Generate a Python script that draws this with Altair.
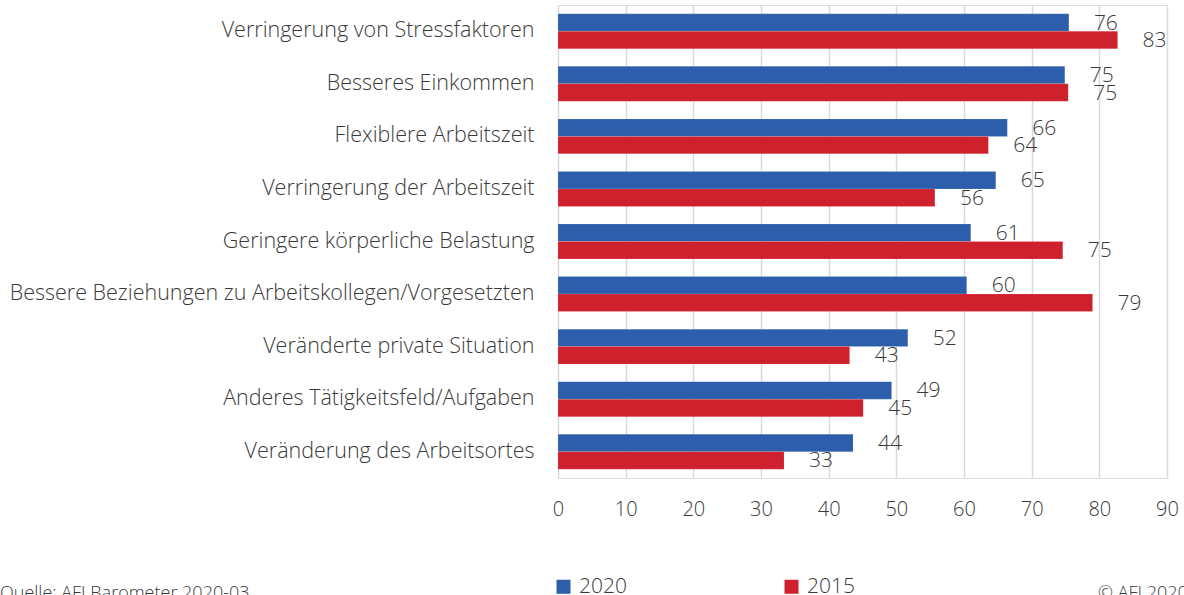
import altair as alt
import pandas as pd

categories = [
    "Verringerung von Stressfaktoren",
    "Besseres Einkommen",
    "Flexiblere Arbeitszeit",
    "Verringerung der Arbeitszeit",
    "Geringere körperliche Belastung",
    "Bessere Beziehungen zu Arbeitskollegen/Vorgesetzten",
    "Veränderte private Situation",
    "Anderes Tätigkeitsfeld/Aufgaben",
    "Veränderung des Arbeitsortes",
]
values_2020 = [75.5, 74.9, 66.4, 64.7, 61.0, 60.4, 51.7, 49.3, 43.6]
values_2015 = [82.7, 75.4, 63.6, 55.7, 74.6, 79.0, 43.1, 45.1, 33.4]
series = ["2020", "2015"]
colors = ["#2c5eab", "#cf202d"]

rows = []
for c, v in zip(categories, values_2020):
    rows.append({"cat": c, "year": "2020", "value": v})
for c, v in zip(categories, values_2015):
    rows.append({"cat": c, "year": "2015", "value": v})
df = pd.DataFrame(rows)

FONT = "Open Sans"
TXT = "#3a3a3a"

y_enc = alt.Y("cat:N", sort=categories, title=None,
              scale=alt.Scale(paddingInner=0.335, paddingOuter=0.1675),
              axis=alt.Axis(domain=False, ticks=False, labelPadding=24, labelFontSize=21.5,
                            labelFont=FONT, labelFontWeight=300, labelColor=TXT, labelLimit=600))
yoff = alt.YOffset("year:N", sort=series, scale=alt.Scale(domain=series))
x_enc = alt.X("value:Q", title=None,
              scale=alt.Scale(domain=[0, 90], nice=False),
              axis=alt.Axis(values=list(range(0, 91, 10)), domain=False, ticks=False,
                            gridColor="#d9d9d9", gridWidth=1.5, labelFontSize=20, labelFont=FONT,
                            labelFontWeight=300, labelColor=TXT, labelPadding=21,
                            labelFlush=False))

bars = alt.Chart(df).mark_bar(stroke="#ffffff", strokeOpacity=0.25, strokeWidth=0.5).encode(
    x=x_enc, y=y_enc, yOffset=yoff,
    color=alt.Color("year:N", sort=series, scale=alt.Scale(domain=series, range=colors),
                    legend=alt.Legend(title=None, orient="none", direction="horizontal",
                                      legendX=-5, legendY=571, symbolType="square",
                                      symbolSize=196, symbolStrokeWidth=0, labelFontSize=21,
                                      labelFont=FONT, labelFontWeight=300, labelColor=TXT,
                                      labelOffset=5, columnPadding=154, padding=0)),
)

labels = alt.Chart(df).mark_text(align="left", baseline="middle", dx=25, dy=1, fontSize=21,
                                 font=FONT, fontWeight=300, color=TXT).encode(
    x="value:Q", y=alt.Y("cat:N", sort=categories), yOffset=yoff,
    text=alt.Text("value:Q", format=".0f"),
)

footer_df = pd.DataFrame({"t": ["Quelle: AFI Barometer 2020-03"], "r": ["© AFI 2020"]})
footer_left = alt.Chart(footer_df).mark_text(align="left", baseline="top", fontSize=18, font=FONT,
                                             fontWeight=300, color=TXT).encode(
    text="t:N", x=alt.value(-558), y=alt.value(580))
footer_right = alt.Chart(footer_df).mark_text(align="left", baseline="top", fontSize=18, font=FONT,
                                              fontWeight=300, color=TXT).encode(
    text="r:N", x=alt.value(540), y=alt.value(580))

chart = alt.layer(bars, labels, footer_left, footer_right).properties(
    width=609, height=473,
    autosize=alt.AutoSizeParams(type="none"),
    padding={"left": 558, "top": 5, "right": 17, "bottom": 117},
).configure_view(stroke=None).configure(background="white")

chart.save("out.html", embed_options={"renderer": "svg", "actions": False})
